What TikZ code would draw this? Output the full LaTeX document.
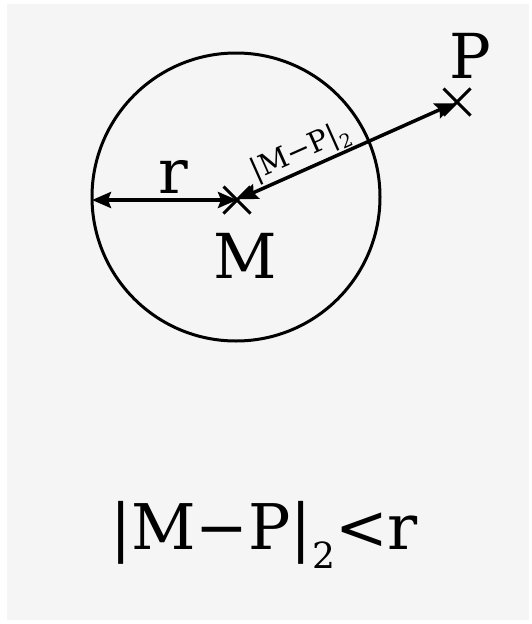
\documentclass[tikz,border=0pt]{standalone}
\usepackage{fontspec}
\setmainfont{DejaVu Serif}
\usetikzlibrary{arrows.meta,shapes.misc}
\begin{document}
\begin{tikzpicture}[x=1pt,y=-1pt,
  dimarrow/.style={line width=3.5pt,{Stealth[length=19pt,width=16pt,inset=3pt]}-{Stealth[length=19pt,width=16pt,inset=3pt]}},
  crossmark/.style={draw,cross out,minimum size=24pt,inner sep=0pt,line width=3pt},
  lbl/.style={font=\fontsize{62}{62}\selectfont,inner sep=0pt,anchor=base}]
\useasboundingbox (0,0) rectangle (531,624);
\fill[black!4] (7,4) rectangle (529,620);
\node[circle,draw,line width=3pt,minimum size=288pt,inner sep=0pt] (C) at (236,197) {};
\node[crossmark] (Mx) at (237,200) {};
\node[crossmark] (Px) at (457,102) {};
\coordinate (L) at (92,200);
\draw[dimarrow] (L) -- (Mx.center);
\draw[dimarrow,shorten <=2pt,shorten >=3pt] (Mx.center) -- node[pos=0.32,sloped,above=1pt,font=\fontsize{29}{29}\selectfont,inner sep=0pt] (lab) {|M−P|\raisebox{-0.5ex}{\fontsize{19}{19}\selectfont 2}} (Px.center);
\node[lbl] (rl) at (173,193) {r};
\node[lbl] (Ml) at (245,278) {M};
\node[lbl] (Pl) at (470,78) {P};
\node[font=\fontsize{63}{63}\selectfont,inner sep=0pt,anchor=base] (F) at (264,549) {|M−P|\raisebox{-0.6ex}{\fontsize{36}{36}\selectfont 2}<r};
\end{tikzpicture}
\end{document}
